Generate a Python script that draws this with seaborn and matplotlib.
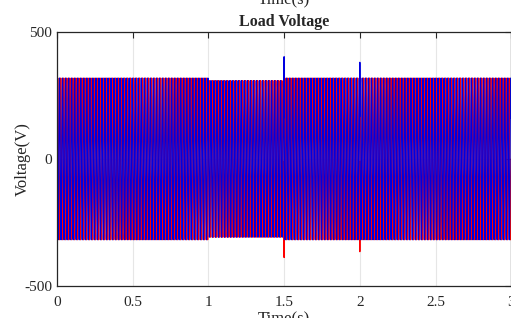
import numpy as np
import pandas as pd
import matplotlib
matplotlib.use("Agg")
import matplotlib.pyplot as plt
import seaborn as sns

# values
seg_start = [0.0, 1.0, 1.5]          # s
seg_end = [1.0, 1.5, 3.0]            # s
seg_amp = [318, 308, 318]            # V peak in each interval
freq_hz = 50
blue_shift_deg = 150
spike_time = [1.5, 2.0]
spike_blue = [402, 380]              # V, upward blue spikes
spike_red = [-388, -365]             # V, downward red spikes
x_ticks = [0, 0.5, 1, 1.5, 2, 2.5, 3]
y_ticks = [-500, 0, 500]

sim_step = 1e-4
t = np.arange(0, 3 + sim_step, sim_step)
amp = np.zeros_like(t)
for a, b, v in zip(seg_start, seg_end, seg_amp):
    amp[(t >= a) & (t <= b)] = v

red = amp * np.sin(2 * np.pi * freq_hz * t)
blue = amp * np.sin(2 * np.pi * freq_hz * t + np.deg2rad(blue_shift_deg))
for ts, vb, vr in zip(spike_time, spike_blue, spike_red):
    i = int(round(ts / sim_step))
    blue[i] = vb
    red[i] = vr

df = pd.DataFrame({"t": t, "red": red, "blue": blue})

sns.set_style("white")
plt.rcParams["font.family"] = ["Liberation Serif", "DejaVu Serif"]

fig = plt.figure(figsize=(5.11, 3.18), dpi=100)
ax = fig.add_axes([0.1115, 0.1006, 0.889, 0.7994])

sns.lineplot(data=df, x="t", y="red", ax=ax, color="#ff0000", lw=0.9,
             estimator=None, sort=False)
sns.lineplot(data=df, x="t", y="blue", ax=ax, color="#0000e0", lw=0.9,
             estimator=None, sort=False)

ax.set_xlim(0, 3)
ax.set_ylim(-500, 500)
ax.set_xticks(x_ticks)
ax.set_xticklabels(["0", "0.5", "1", "1.5", "2", "2.5", "3"])
ax.set_yticks(y_ticks)
ax.set_yticklabels(["-500", "0", "500"])
ax.grid(True, color="#e6e6e6", lw=0.8)
ax.set_axisbelow(True)
ax.tick_params(direction="in", length=4, width=0.8, labelsize=11,
               top=True, right=True, colors="#262626", labelcolor="#262626")
ax.tick_params(axis="x", pad=7)
for s in ax.spines.values():
    s.set_color("#262626")
    s.set_linewidth(0.9)

ax.set_title("Load Voltage", fontsize=11.5, fontweight="bold", pad=4)
ax.set_xlabel("Time(s)", fontsize=12, labelpad=2)
ax.set_ylabel("Voltage(V)", fontsize=12, labelpad=-5)

# label of the subplot above, cut off at the top
fig.text(0.556, 1.0, "Time(s)", ha="center", va="center", fontsize=12,
         color="#262626")

fig.savefig("out.png", dpi=100)
